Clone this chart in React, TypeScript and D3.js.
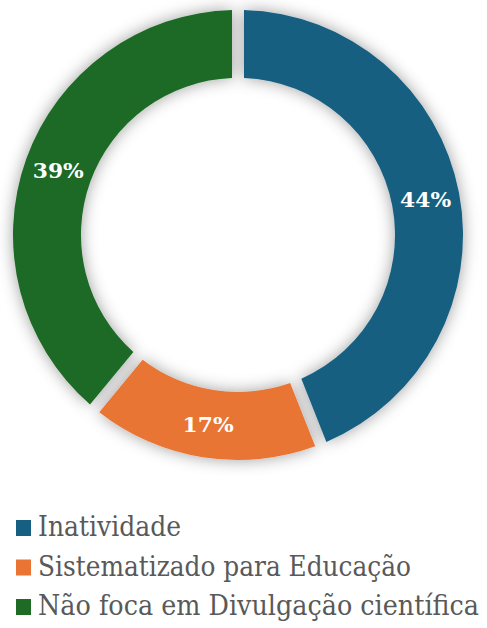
import React, { useEffect, useRef } from "react";
import * as d3 from "d3";

const categories = ["Inatividade", "Sistematizado para Educação", "Não foca em Divulgação científica"];
const values = [44, 17, 39];
const colors = ["#175F80", "#E97434", "#1D6B25"];
// measured text widths in the reference (px)
const legendWidths = [143, 373, 441];

const W = 487;
const H = 628;
const SERIF = "DejaVu Serif, serif";

export default function App() {
  const ref = useRef<SVGSVGElement>(null);

  useEffect(() => {
    const svg = d3.select(ref.current);
    svg.selectAll("*").remove();

    const cx = 238;
    const cy = 235;
    const outer = 225;
    const inner = 157;

    // soft grey glow around the ring
    const defs = svg.append("defs");
    const f = defs.append("filter")
      .attr("id", "glow")
      .attr("x", "-20%").attr("y", "-20%")
      .attr("width", "140%").attr("height", "140%");
    f.append("feGaussianBlur").attr("in", "SourceAlpha").attr("stdDeviation", 8).attr("result", "blur");
    f.append("feFlood").attr("flood-color", "#000").attr("flood-opacity", 0.38);
    f.append("feComposite").attr("in2", "blur").attr("operator", "in").attr("result", "shadow");
    const m = f.append("feMerge");
    m.append("feMergeNode").attr("in", "shadow");
    m.append("feMergeNode").attr("in", "SourceGraphic");

    const data = categories.map((c, i) => ({ name: c, value: values[i], color: colors[i], w: legendWidths[i] }));

    const pie = d3.pie<any>().value(d => d.value).sort(null);
    const arc = d3.arc<any>()
      .innerRadius(inner)
      .outerRadius(outer)
      .padRadius(outer)
      .padAngle(12 / outer);
    const labelArc = d3.arc<any>().innerRadius(inner).outerRadius(outer);

    const arcs = pie(data);

    const g = svg.append("g").attr("transform", `translate(${cx},${cy})`);

    g.append("g")
      .attr("filter", "url(#glow)")
      .selectAll("path")
      .data(arcs)
      .enter()
      .append("path")
      .attr("d", arc)
      .attr("fill", d => d.data.color);

    g.selectAll("text.lbl")
      .data(arcs)
      .enter()
      .append("text")
      .attr("class", "lbl")
      .attr("transform", d => `translate(${labelArc.centroid(d)})`)
      .attr("text-anchor", "middle")
      .attr("dy", 8)
      .attr("fill", "#fff")
      .style("font-family", SERIF)
      .attr("font-weight", "bold")
      .attr("font-size", 20)
      .attr("textLength", 51)
      .attr("lengthAdjust", "spacingAndGlyphs")
      .text(d => d.data.value + "%");

    // legend
    const legend = svg.append("g");
    const rowY = d3.scalePoint<string>().domain(categories).range([536, 615]);
    const item = legend.selectAll("g")
      .data(data)
      .enter()
      .append("g")
      .attr("transform", d => `translate(0,${rowY(d.name)})`);

    item.append("rect")
      .attr("x", 16)
      .attr("y", -16)
      .attr("width", 15)
      .attr("height", 16)
      .attr("fill", d => d.color);

    item.append("text")
      .attr("x", 38)
      .attr("y", 0)
      .attr("fill", "#595959")
      .style("font-family", SERIF)
      .attr("font-size", 27)
      .attr("textLength", d => d.w)
      .attr("lengthAdjust", "spacingAndGlyphs")
      .text(d => d.name);
  }, []);

  return (
    <svg
      ref={ref}
      width={W}
      height={H}
      style={{ position: "absolute", left: 0, top: 0, background: "#fff" }}
    />
  );
}
